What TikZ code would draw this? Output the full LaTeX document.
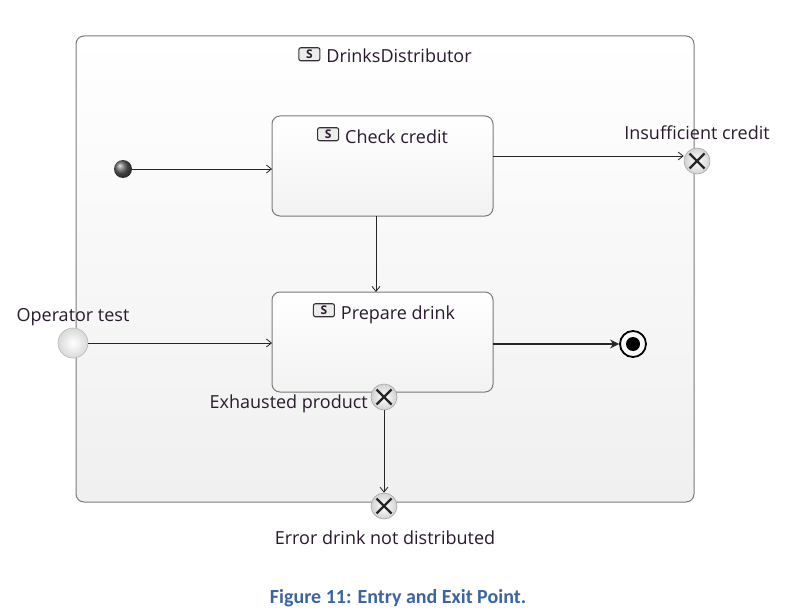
\documentclass[tikz,border=0pt]{standalone}
\usepackage{fontspec}
\setmainfont{Open Sans}
\newfontfamily\capfont{Carlito}
\usetikzlibrary{arrows.meta,shadings}
\definecolor{bordergray}{HTML}{7A7A7A}
\definecolor{capblue}{HTML}{3A65A0}
\definecolor{txt}{HTML}{2A1A2E}
\tikzset{
  statebox/.style={draw=bordergray,line width=1pt,rounded corners=8pt,top color=white,bottom color=gray!10},
  lbl/.style={font=\fontsize{18}{20}\selectfont,text=txt,inner sep=0pt},
  flow/.style={draw=black!85,line width=0.9pt,-{Straight Barb[length=5pt,width=8pt,line width=0.8pt]}},
  exitpt/.style={circle,minimum size=26pt,inner sep=0pt,draw=gray!70,line width=0.6pt,inner color=white,outer color=gray!35,
    path picture={\draw[line width=2.2pt,black!85] ([shift={(-7.5pt,-7.5pt)}]path picture bounding box.center) -- ([shift={(7.5pt,7.5pt)}]path picture bounding box.center)
       ([shift={(-7.5pt,7.5pt)}]path picture bounding box.center) -- ([shift={(7.5pt,-7.5pt)}]path picture bounding box.center);}},
  entrypt/.style={circle,minimum size=30pt,inner sep=0pt,draw=gray!55,line width=0.6pt,inner color=white,outer color=gray!30},
  initpt/.style={circle,minimum size=18pt,inner sep=0pt,shading=ball,ball color=gray!75!black},
}
\newcommand{\sicon}{\tikz[baseline=-4.5pt]{\node[draw=black!80,line width=1.1pt,rounded corners=2pt,fill=gray!15,minimum width=21pt,minimum height=13pt,inner sep=0pt,font=\fontsize{12}{12}\bfseries\selectfont] {S};}\hspace{6pt}}
\begin{document}
\begin{tikzpicture}[x=1pt,y=-1pt]
\useasboundingbox (0,0) rectangle (787,615);
\fill[white] (0,0) rectangle (787,615);
% outer composite state
\path[statebox,top color=white,bottom color=gray!12] (76,36) rectangle (694,502);
\node[lbl,anchor=base] (title) at (385,63) {\sicon DrinksDistributor};
% inner states
\path[statebox] (272,116) rectangle (493,216);
\node[lbl,anchor=base] (cclbl) at (382.5,143) {\sicon Check credit};
\path[statebox] (272,292) rectangle (493,392);
\node[lbl,anchor=base] (pdlbl) at (384,319) {\sicon Prepare drink};
\coordinate (ccE) at (493,156);
\coordinate (ccW) at (272,169);
\coordinate (ccS) at (376,216);
\coordinate (pdN) at (376,292);
\coordinate (pdW) at (272,343);
\coordinate (pdE) at (493,344);
% pseudo states
\node[initpt] (init) at (123,169) {};
\node[exitpt] (insuf) at (697,161) {};
\node[lbl,anchor=base] (insuflbl) at (697,140) {Insufficient credit};
\node[entrypt] (optest) at (73,343) {};
\node[lbl,anchor=base] (optestlbl) at (73,321) {Operator test};
\node[circle,minimum size=26pt,inner sep=0pt,draw=black,line width=1.8pt,fill=gray!5] (final) at (633,344) {};
\node[circle,minimum size=14pt,inner sep=0pt,fill=black] (finalin) at (633,344) {};
\node[exitpt] (exh) at (384,397) {};
\node[lbl,anchor=base east] (exhlbl) at (368,408) {Exhausted product};
\node[exitpt] (err) at (384,506) {};
\node[lbl,anchor=base] (errlbl) at (385,544) {Error drink not distributed};
% transitions
\draw[flow] (init) -- (ccW);
\draw[flow] (ccE) -- (insuf.west |- ccE);
\draw[flow] (ccS) -- (pdN);
\draw[flow] (optest) -- (pdW);
\draw[draw=black!85,line width=1.6pt,-{Stealth[length=9pt,width=9pt]}] (pdE) -- (final);
\draw[flow] (exh) -- (err);
% caption
\node[font=\capfont\bfseries\fontsize{20}{22}\selectfont,text=capblue,anchor=base] (cap) at (398,603) {Figure 11: Entry and Exit Point.};
\end{tikzpicture}
\end{document}
